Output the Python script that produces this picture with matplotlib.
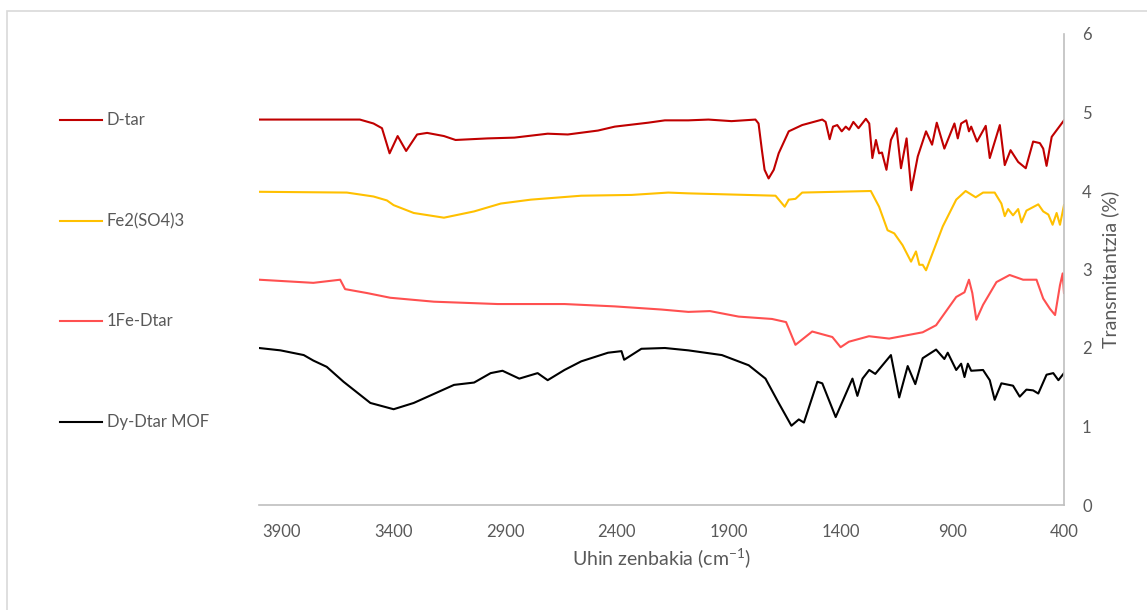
import matplotlib.pyplot as plt
from matplotlib.lines import Line2D
from matplotlib.patches import Rectangle

plt.rcParams['font.family'] = ['Lato', 'DejaVu Sans']
plt.rcParams['mathtext.fontset'] = 'custom'
plt.rcParams['mathtext.rm'] = 'Lato'
plt.rcParams['mathtext.it'] = 'Lato'

# FTIR spectra: wavenumber (cm-1) and transmittance
dtar_x = [4000, 3607, 3549, 3488, 3450, 3416, 3380, 3342, 3293, 3248, 3173, 3121, 2978, 2858,
          2709, 2619, 2484, 2409, 2260, 2185, 2080, 1990, 1887, 1780, 1766, 1751, 1739, 1721,
          1698, 1676, 1631, 1571, 1481, 1466, 1448, 1433, 1414, 1394, 1376, 1361, 1342, 1319,
          1286, 1271, 1257, 1241, 1227, 1214, 1194, 1174, 1149, 1129, 1104, 1083, 1054, 1017,
          990, 969, 935, 890, 875, 860, 837, 825, 815, 789, 750, 732, 687, 665, 639, 605, 571,
          538, 508, 493, 478, 455, 400]
dtar_y = [4.91, 4.91, 4.91, 4.86, 4.80, 4.48, 4.70, 4.51, 4.72, 4.74, 4.70, 4.65, 4.67, 4.68,
          4.73, 4.72, 4.77, 4.82, 4.87, 4.90, 4.90, 4.91, 4.89, 4.91, 4.86, 4.52, 4.27, 4.16,
          4.27, 4.48, 4.76, 4.84, 4.91, 4.88, 4.66, 4.82, 4.84, 4.76, 4.82, 4.78, 4.88, 4.80,
          4.92, 4.86, 4.42, 4.65, 4.48, 4.49, 4.27, 4.65, 4.80, 4.29, 4.67, 4.01, 4.44, 4.76,
          4.59, 4.87, 4.54, 4.86, 4.67, 4.86, 4.90, 4.76, 4.82, 4.63, 4.83, 4.42, 4.84, 4.33,
          4.52, 4.37, 4.29, 4.63, 4.61, 4.54, 4.32, 4.69, 4.90]

fe_x = [4000, 3607, 3488, 3428, 3398, 3308, 3173, 3038, 2919, 2784, 2559, 2334, 2170, 2080,
        1690, 1649, 1631, 1601, 1571, 1264, 1227, 1189, 1159, 1122, 1084, 1062, 1047, 1032,
        1017, 942, 882, 840, 795, 762, 710, 680, 665, 650, 628, 605, 590, 568, 515, 493, 470,
        451, 433, 418, 400]
fe_y = [3.99, 3.98, 3.93, 3.88, 3.82, 3.72, 3.66, 3.74, 3.84, 3.89, 3.94, 3.95, 3.98, 3.97,
        3.94, 3.80, 3.89, 3.90, 3.98, 4.00, 3.80, 3.50, 3.46, 3.31, 3.10, 3.23, 3.06, 3.06,
        2.99, 3.55, 3.89, 4.00, 3.92, 3.98, 3.98, 3.84, 3.68, 3.77, 3.69, 3.77, 3.60, 3.75,
        3.83, 3.74, 3.70, 3.57, 3.72, 3.57, 3.82]

fedtar_x = [4000, 3757, 3637, 3615, 3517, 3413, 3218, 2933, 2634, 2409, 2200, 2080, 1983,
            1855, 1706, 1643, 1601, 1526, 1436, 1399, 1362, 1272, 1182, 1032, 972, 882, 845,
            825, 810, 792, 762, 702, 643, 583, 523, 493, 463, 440, 418, 406, 400]
fedtar_y = [2.87, 2.83, 2.87, 2.75, 2.70, 2.64, 2.59, 2.56, 2.56, 2.53, 2.49, 2.46, 2.47,
            2.40, 2.37, 2.33, 2.04, 2.21, 2.14, 2.01, 2.08, 2.15, 2.12, 2.20, 2.29, 2.65, 2.71,
            2.87, 2.70, 2.36, 2.55, 2.84, 2.93, 2.87, 2.87, 2.63, 2.50, 2.42, 2.80, 2.95, 2.70]

mof_x = [4000, 3904, 3800, 3757, 3697, 3622, 3502, 3398, 3308, 3128, 3038, 2964, 2911, 2836,
         2754, 2709, 2634, 2559, 2439, 2379, 2367, 2334, 2290, 2185, 2080, 1930, 1810, 1735,
         1676, 1619, 1586, 1563, 1503, 1481, 1421, 1346, 1324, 1301, 1271, 1244, 1174, 1137,
         1099, 1065, 1032, 972, 935, 920, 882, 860, 845, 830, 815, 762, 732, 710, 680, 628,
         598, 568, 538, 515, 478, 448, 425, 400]
mof_y = [2.00, 1.97, 1.91, 1.84, 1.76, 1.57, 1.30, 1.22, 1.30, 1.53, 1.56, 1.68, 1.71, 1.61,
         1.68, 1.59, 1.72, 1.83, 1.94, 1.96, 1.85, 1.91, 1.99, 2.00, 1.97, 1.91, 1.78, 1.61,
         1.30, 1.01, 1.09, 1.05, 1.57, 1.55, 1.12, 1.61, 1.39, 1.61, 1.72, 1.67, 1.91, 1.37,
         1.77, 1.54, 1.87, 1.98, 1.86, 1.94, 1.72, 1.80, 1.63, 1.80, 1.71, 1.72, 1.59, 1.34,
         1.55, 1.52, 1.38, 1.47, 1.46, 1.42, 1.66, 1.68, 1.59, 1.68]

labels = ['D-tar', 'Fe2(SO4)3', '1Fe-Dtar', 'Dy-Dtar MOF']
colors = ['#C00000', '#FFC000', '#FF5050', '#000000']
xs = [dtar_x, fe_x, fedtar_x, mof_x]
ys = [dtar_y, fe_y, fedtar_y, mof_y]
xticks = [3900, 3400, 2900, 2400, 1900, 1400, 900, 400]
yticks = [0, 1, 2, 3, 4, 5, 6]

grey = '#595959'
W, H = 1147, 610
fig = plt.figure(figsize=(W / 100, H / 100), dpi=100)

# light frame of the chart area
fig.patches.append(Rectangle((7.5 / W, -0.05), 1.1, 1 - 10.5 / H + 0.05,
                             transform=fig.transFigure, fill=False,
                             edgecolor='#D9D9D9', lw=1.2))

ax = fig.add_axes([259 / W, 1 - 505 / H, (1064 - 259) / W, (505 - 34) / H])
for x, y, c in zip(xs, ys, colors):
    ax.plot(x, y, color=c, lw=1.5)

ax.set_xlim(4000, 400)
ax.set_ylim(0, 6)
ax.set_xticks(xticks)
ax.set_yticks(yticks)
ax.yaxis.tick_right()
ax.yaxis.set_label_position('right')
for s in ['left', 'top']:
    ax.spines[s].set_visible(False)
for s in ['bottom', 'right']:
    ax.spines[s].set_color('#BFBFBF')
    ax.spines[s].set_linewidth(1.2)
ax.tick_params(length=0, labelsize=12, labelcolor=grey)
ax.tick_params(axis='x', pad=14)
ax.tick_params(axis='y', pad=13)
ax.set_xlabel('Uhin zenbakia (cm$^{-1}$)', fontsize=14, color=grey, labelpad=4)
ax.set_ylabel('Transmitantzia (%)', fontsize=14, color=grey, labelpad=7)

# legend on the left
leg_y = [120, 221, 321, 422]
for lab, c, yp in zip(labels, colors, leg_y):
    fig.add_artist(Line2D([60 / W, 102 / W], [1 - yp / H, 1 - yp / H], color=c, lw=1.5))
    fig.text(107 / W, 1 - yp / H, lab, fontsize=12, color=grey, va='center', ha='left')

fig.savefig('out.png', dpi=100)
